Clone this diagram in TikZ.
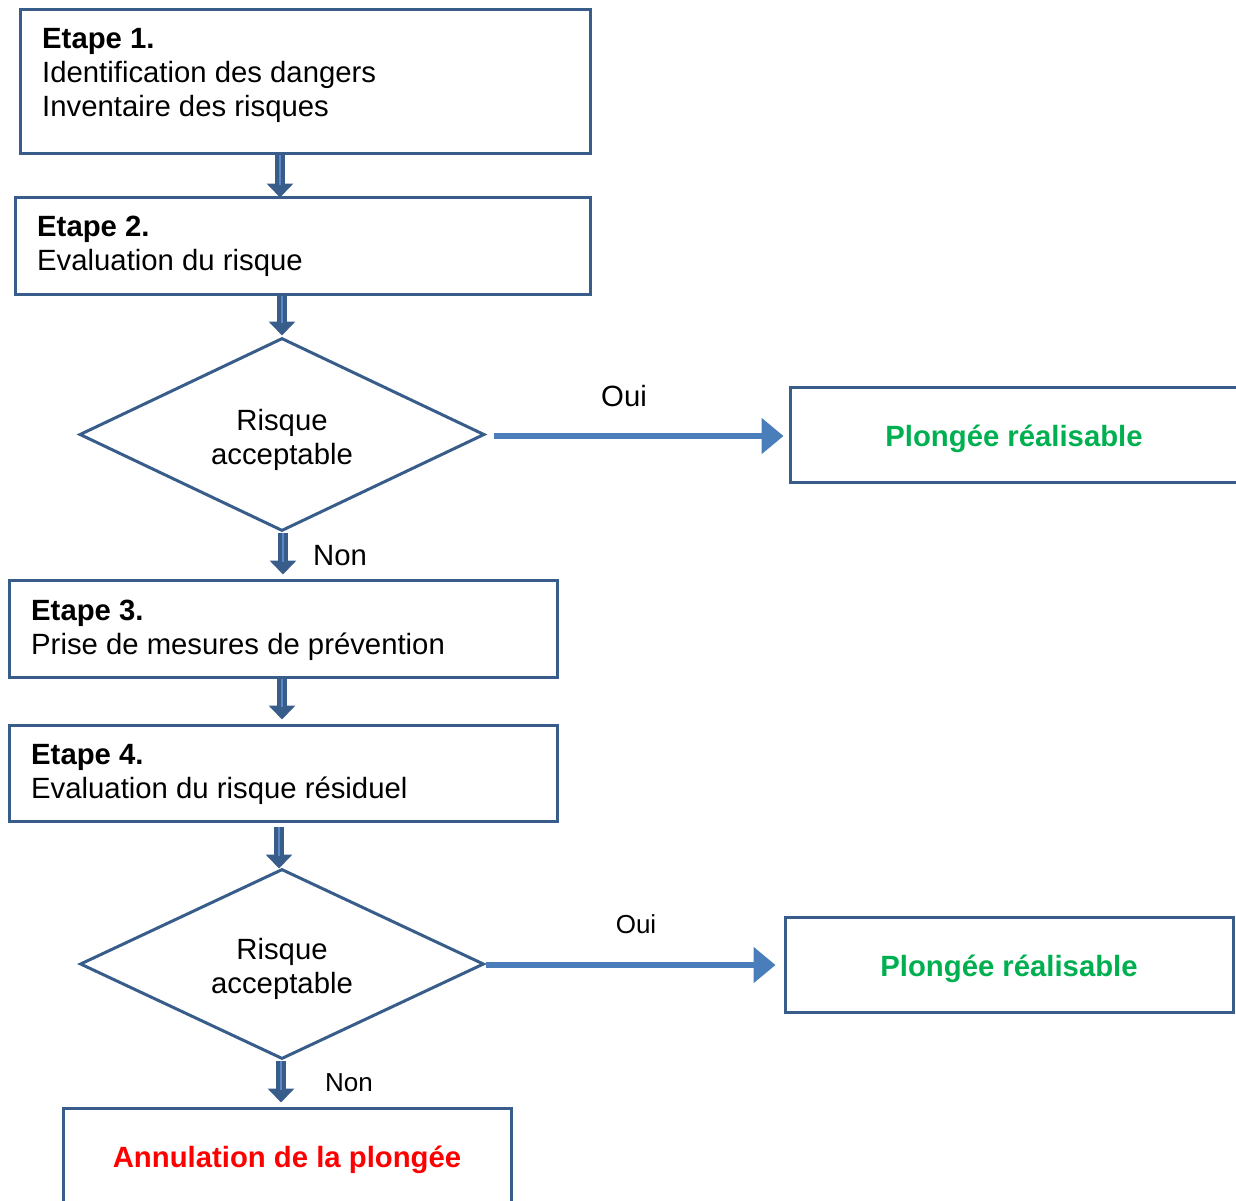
\documentclass[tikz,border=0pt]{standalone}
\usepackage{fontspec}
\setmainfont{Liberation Sans}
\usetikzlibrary{arrows.meta,shapes.geometric}
\definecolor{bordc}{RGB}{56,93,138}
\definecolor{arrc}{RGB}{74,126,187}
\definecolor{stripec}{RGB}{95,135,195}
\definecolor{okgreen}{RGB}{0,176,80}
\definecolor{nored}{RGB}{255,0,0}
\begin{document}
\begin{tikzpicture}[x=1pt,y=-1pt,
  box/.style={draw=bordc, line width=3pt, rectangle, inner sep=0pt},
  dia/.style={draw=bordc, line width=3pt, diamond, inner sep=0pt},
  txt/.style={font=\fontsize{29.3}{34}\selectfont, inner sep=0pt, anchor=base west},
  ctxt/.style={font=\fontsize{29.3}{34}\selectfont, inner sep=0pt, anchor=base},
  stxt/.style={font=\fontsize{26}{30}\selectfont, inner sep=0pt, anchor=base},
  vflow/.style={draw=bordc, line width=10pt, -{Triangle[length=14pt,width=26pt]}},
  vstripe/.style={draw=stripec, line width=1.5pt, shorten >=13pt},
  hflow/.style={draw=arrc, line width=6pt, -{Triangle[length=22pt,width=35pt]}}]
\useasboundingbox (0,0) rectangle (1236,1200);

% boxes
\node[box, minimum width=570pt, minimum height=144pt] (b1) at (305,81) {};
\node[box, minimum width=575pt, minimum height=97pt] (b2) at (302.5,245.5) {};
\node[dia, minimum width=405pt, minimum height=193pt] (d1) at (282,434.5) {};
\node[box, minimum width=447pt, minimum height=95pt] (p1) at (1013.5,434.5) {};
\node[box, minimum width=548pt, minimum height=97pt] (b3) at (283,628.5) {};
\node[box, minimum width=548pt, minimum height=96pt] (b4) at (283,773) {};
\node[dia, minimum width=404pt, minimum height=190pt] (d2) at (282,964) {};
\node[box, minimum width=448pt, minimum height=95pt] (p2) at (1009,964.5) {};
\node[box, minimum width=448pt, minimum height=106pt] (an) at (287,1161) {};

% texts
\node[txt] (t1a) at (42,48.5) {\textbf{Etape 1.}};
\node[txt] (t1b) at (42,82) {Identification des dangers};
\node[txt] (t1c) at (42,116) {Inventaire des risques};
\node[txt] (t2a) at (37,236) {\textbf{Etape 2.}};
\node[txt] (t2b) at (37,270) {Evaluation du risque};
\node[ctxt] (d1a) at (282,430) {Risque};
\node[ctxt] (d1b) at (282,464) {acceptable};
\node[ctxt] (oui1) at (624,406) {Oui};
\node[ctxt] (non1) at (340,565) {Non};
\node[ctxt, text=okgreen, font=\fontsize{29.3}{34}\selectfont\bfseries] (p1t) at (1014,446) {Plongée réalisable};
\node[txt] (t3a) at (31,620) {\textbf{Etape 3.}};
\node[txt] (t3b) at (31,654) {Prise de mesures de prévention};
\node[txt] (t4a) at (31,764) {\textbf{Etape 4.}};
\node[txt] (t4b) at (31,798) {Evaluation du risque résiduel};
\node[ctxt] (d2a) at (282,959) {Risque};
\node[ctxt] (d2b) at (282,993) {acceptable};
\node[stxt] (oui2) at (636,933) {Oui};
\node[stxt] (non2) at (349,1091) {Non};
\node[ctxt, text=okgreen, font=\fontsize{29.3}{34}\selectfont\bfseries] (p2t) at (1009,976) {Plongée réalisable};
\node[ctxt, text=nored, font=\fontsize{29.3}{34}\selectfont\bfseries] (ant) at (287,1167) {Annulation de la plongée};

% vertical arrows
\coordinate (a1) at ([xshift=-25pt]b1.south);
\coordinate (a2) at ([xshift=-20.5pt]b2.south);
\coordinate (a3) at ([xshift=1pt]d1.south);
\coordinate (a4) at ([xshift=-1pt]b3.south);
\coordinate (a5) at ([xshift=-4pt,yshift=-4pt]b4.south);
\coordinate (a6) at ([xshift=-1pt]d2.south);
\draw[vflow, shorten >=-2pt] (a1) -- (a1 |- b2.north);
\draw[vstripe, shorten >=11pt] (a1) -- (a1 |- b2.north);
\draw[vflow, shorten >=1pt] (a2) -- (a2 |- d1.north);
\draw[vstripe, shorten >=14pt] (a2) -- (a2 |- d1.north);
\draw[vflow, shorten >=4pt] (a3) -- (a3 |- b3.north);
\draw[vstripe, shorten >=17pt] (a3) -- (a3 |- b3.north);
\draw[vflow, shorten >=4pt] (a4) -- (a4 |- b4.north);
\draw[vstripe, shorten >=17pt] (a4) -- (a4 |- b4.north);
\draw[vflow, shorten >=-1pt] (a5) -- (a5 |- d2.north);
\draw[vstripe, shorten >=12pt] (a5) -- (a5 |- d2.north);
\draw[vflow, shorten >=4pt] (a6) -- (a6 |- an.north);
\draw[vstripe, shorten >=17pt] (a6) -- (a6 |- an.north);

% horizontal arrows
\coordinate (h1) at ([xshift=8pt,yshift=-1.5pt]d1.east);
\draw[hflow, shorten >=5pt] (h1) -- (h1 -| p1.west);
\coordinate (h2) at ([yshift=-1pt]d2.east);
\draw[hflow, shorten >=8pt] (h2) -- (h2 -| p2.west);
\end{tikzpicture}
\end{document}
